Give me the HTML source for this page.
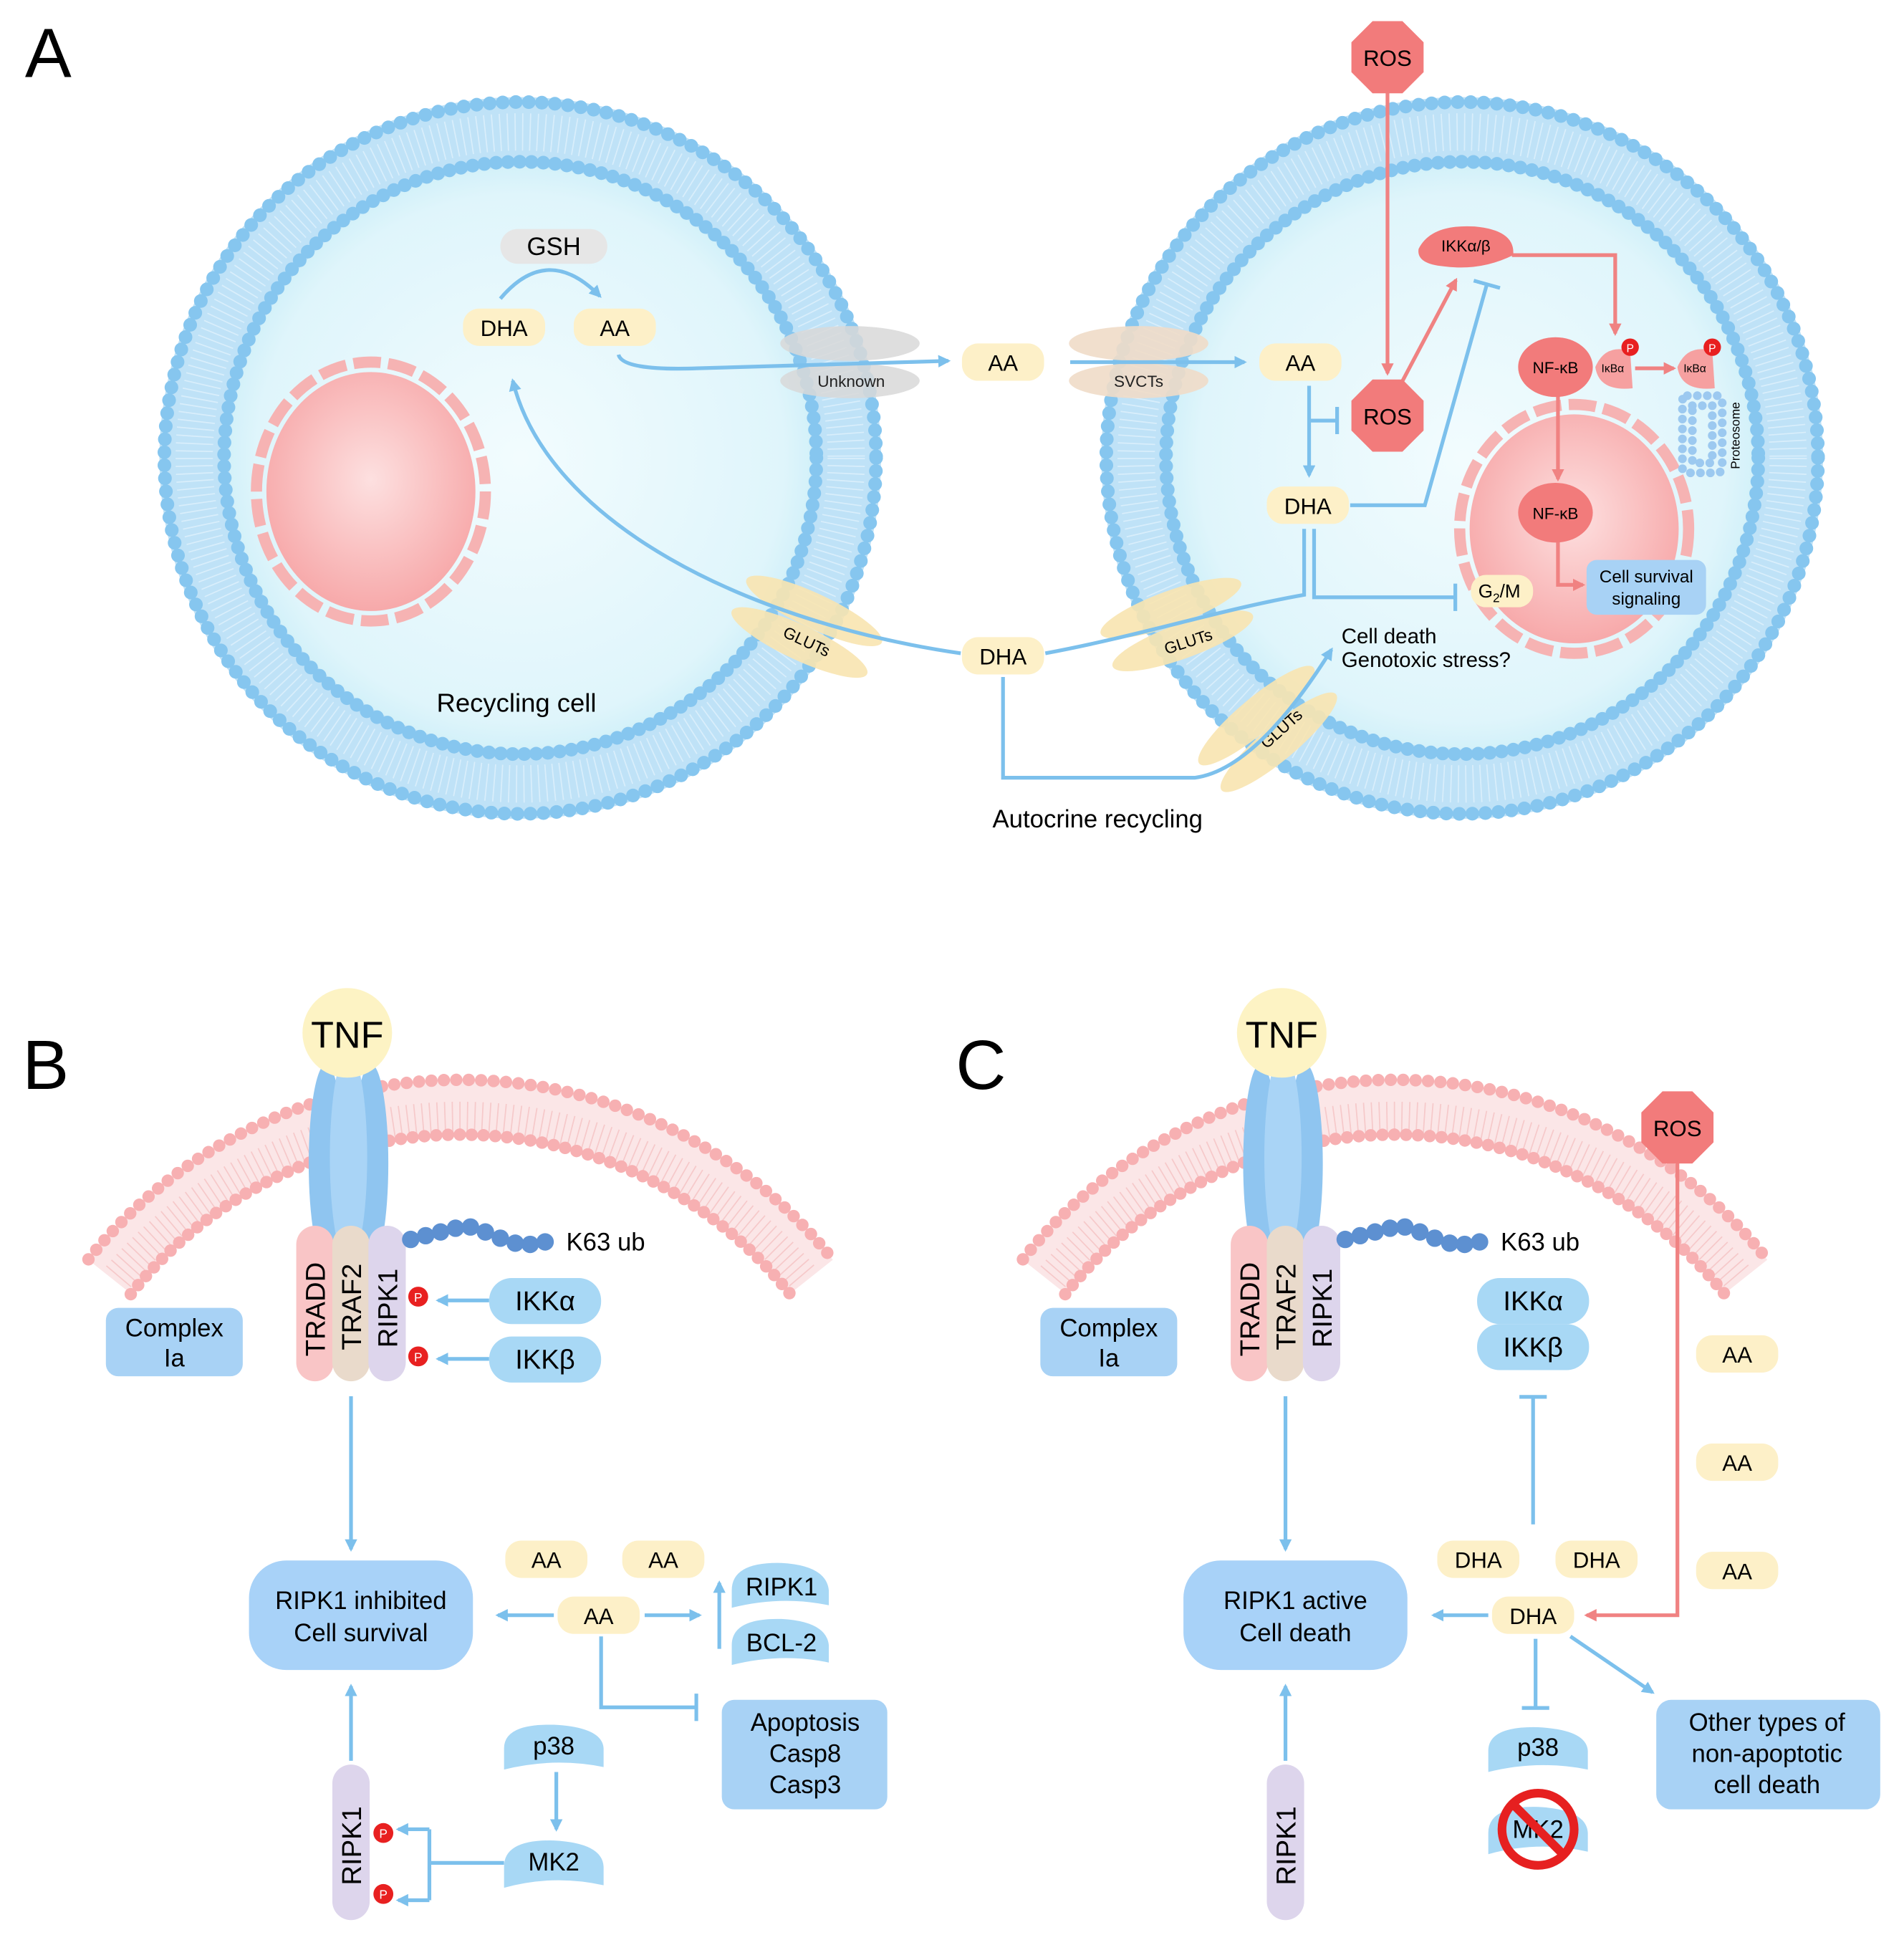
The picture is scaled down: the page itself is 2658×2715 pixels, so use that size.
<!DOCTYPE html>
<html><head><meta charset="utf-8"><style>
html,body{margin:0;padding:0;background:#fff}
svg{display:block}
text{font-family:"Liberation Sans",Arial,sans-serif}
</style></head><body>
<svg width="2658" height="2715" viewBox="0 0 1530 1563" xmlns="http://www.w3.org/2000/svg">
<defs>
<radialGradient id="cell" cx="50%" cy="50%" r="50%">
<stop offset="0" stop-color="#f2fcfe"/><stop offset="0.8" stop-color="#dff5fb"/><stop offset="1" stop-color="#c3ebf6"/></radialGradient>
<radialGradient id="nuc" cx="50%" cy="45%" r="55%">
<stop offset="0" stop-color="#fde0e0"/><stop offset="1" stop-color="#f7a9aa"/></radialGradient>
<marker id="ab" markerWidth="10" markerHeight="10" refX="8" refY="5" orient="auto" markerUnits="userSpaceOnUse"><path d="M0,0 L10,5 L0,10 z" fill="#7cc0ec"/></marker>
<marker id="ar" markerWidth="10" markerHeight="10" refX="8" refY="5" orient="auto" markerUnits="userSpaceOnUse"><path d="M0,0 L10,5 L0,10 z" fill="#f08282"/></marker>
<marker id="tb" markerWidth="4" markerHeight="22" refX="2" refY="11" orient="auto" markerUnits="userSpaceOnUse"><rect x="0" y="0" width="3" height="22" fill="#7cc0ec"/></marker>
</defs>
<rect width="1530" height="1563" fill="#fff"/>

<!-- PANEL A cells -->
<g>
<circle cx="418" cy="368" r="265" fill="url(#cell)"/>
<circle cx="418" cy="368" r="262" fill="none" stroke="#bfe2f7" stroke-width="56"/>
<circle cx="418" cy="368" r="286" fill="none" stroke="#86c6ef" stroke-width="11" stroke-dasharray="0 10.5" stroke-linecap="round"/>
<circle cx="418" cy="368" r="238" fill="none" stroke="#86c6ef" stroke-width="11" stroke-dasharray="0 9.5" stroke-linecap="round"/>
<circle cx="418" cy="368" r="262" fill="none" stroke="#d9eefb" stroke-width="30" stroke-dasharray="1 5"/>
<ellipse cx="298" cy="395" rx="84" ry="96" fill="url(#nuc)"/>
<ellipse cx="298" cy="395" rx="92" ry="104" fill="none" stroke="#f6b3b3" stroke-width="9" stroke-dasharray="22 6"/>
</g>
<g>
<circle cx="1175" cy="368" r="265" fill="url(#cell)"/>
<circle cx="1175" cy="368" r="262" fill="none" stroke="#bfe2f7" stroke-width="56"/>
<circle cx="1175" cy="368" r="286" fill="none" stroke="#86c6ef" stroke-width="11" stroke-dasharray="0 10.5" stroke-linecap="round"/>
<circle cx="1175" cy="368" r="238" fill="none" stroke="#86c6ef" stroke-width="11" stroke-dasharray="0 9.5" stroke-linecap="round"/>
<circle cx="1175" cy="368" r="262" fill="none" stroke="#d9eefb" stroke-width="30" stroke-dasharray="1 5"/>
<ellipse cx="1265" cy="425" rx="84" ry="92" fill="url(#nuc)"/>
<ellipse cx="1265" cy="425" rx="92" ry="100" fill="none" stroke="#f6b3b3" stroke-width="9" stroke-dasharray="22 6"/>
</g>
<text x="20" y="62" font-size="56">A</text>

<!-- transporters -->
<ellipse cx="683" cy="276" rx="56" ry="14" fill="#d8d8d8" opacity="0.85"/>
<ellipse cx="683" cy="306" rx="56" ry="14" fill="#d8d8d8" opacity="0.85"/>
<text x="684" y="311" font-size="13" text-anchor="middle" fill="#222">Unknown</text>
<ellipse cx="915" cy="276" rx="56" ry="14" fill="#efdcc8" opacity="0.9"/>
<ellipse cx="915" cy="306" rx="56" ry="14" fill="#efdcc8" opacity="0.9"/>
<text x="915" y="311" font-size="13" text-anchor="middle" fill="#222">SVCTs</text>
<g transform="rotate(25 650 500)"><ellipse cx="650" cy="490" rx="60" ry="14" fill="#f8e4b0" opacity="0.9"/><ellipse cx="650" cy="518" rx="60" ry="14" fill="#f8e4b0" opacity="0.9"/></g>
<text x="648" y="520" font-size="13" text-anchor="middle" transform="rotate(25 648 516)">GLUTs</text>
<g transform="rotate(-20 945 500)"><ellipse cx="945" cy="488" rx="60" ry="14" fill="#f8e4b0" opacity="0.9"/><ellipse cx="945" cy="516" rx="60" ry="14" fill="#f8e4b0" opacity="0.9"/></g>
<text x="955" y="520" font-size="13" text-anchor="middle" transform="rotate(-18 955 516)">GLUTs</text>
<g transform="rotate(-40 1018 585)"><ellipse cx="1018" cy="572" rx="60" ry="14" fill="#f8e4b0" opacity="0.9"/><ellipse cx="1018" cy="600" rx="60" ry="14" fill="#f8e4b0" opacity="0.9"/></g>
<text x="1030" y="590" font-size="13" text-anchor="middle" transform="rotate(-42 1030 586)">GLUTs</text>

<!-- A pills -->
<g font-size="18" text-anchor="middle">
<rect x="402" y="184" width="86" height="28" rx="14" fill="#e6e6e6"/><text x="445" y="205" font-size="20">GSH</text>
<rect x="372" y="248" width="66" height="30" rx="13" fill="#fdf0c8"/><text x="405" y="270">DHA</text>
<rect x="461" y="248" width="66" height="30" rx="13" fill="#fdf0c8"/><text x="494" y="270">AA</text>
<rect x="773" y="276" width="66" height="30" rx="13" fill="#fdf0c8"/><text x="806" y="298">AA</text>
<rect x="1012" y="276" width="66" height="30" rx="13" fill="#fdf0c8"/><text x="1045" y="298">AA</text>
<rect x="1018" y="391" width="66" height="30" rx="13" fill="#fdf0c8"/><text x="1051" y="413">DHA</text>
<rect x="773" y="512" width="66" height="30" rx="13" fill="#fdf0c8"/><text x="806" y="534">DHA</text>
</g>
<text x="415" y="572" font-size="21" text-anchor="middle">Recycling cell</text>
<text x="882" y="665" font-size="20" text-anchor="middle">Autocrine recycling</text>
<text x="1078" y="517" font-size="17">Cell death</text>
<text x="1078" y="536" font-size="17">Genotoxic stress?</text>

<!-- A blue arrows -->
<g fill="none" stroke="#7cc0ec" stroke-width="3">
<path d="M402,240 Q440,195 482,238" marker-end="url(#ab)"/>
<path d="M497,285 Q500,298 560,296 L762,290" marker-end="url(#ab)"/>
<path d="M860,291 L1000,291" marker-end="url(#ab)"/>
<path d="M1052,310 L1052,382" marker-end="url(#ab)"/>
<path d="M1052,338 L1075,338" marker-end="url(#tb)"/>
<path d="M772,525 C600,500 440,420 412,306" marker-end="url(#ab)"/>
<path d="M840,525 C920,510 980,490 1048,478 L1048,425"/>
<path d="M1056,425 L1056,480 L1170,480" marker-end="url(#tb)"/>
<path d="M806,544 L806,625 L960,625 C1000,620 1040,570 1070,522" marker-end="url(#ab)"/>
<path d="M1085,406 L1145,406 L1195,228" marker-end="url(#tb)"/>
</g>
<!-- A red -->
<g fill="none" stroke="#f08282" stroke-width="3">
<path d="M1115,70 L1115,300" marker-end="url(#ar)"/>
<path d="M1125,310 L1170,225" marker-end="url(#ar)"/>
<path d="M1215,205 L1298,205 L1298,268" marker-end="url(#ar)"/>
<path d="M1252,318 L1252,385" marker-end="url(#ar)"/>
<path d="M1252,432 L1252,470 L1272,470" marker-end="url(#ar)"/>
<path d="M1314,296 L1345,296" marker-end="url(#ar)"/>
</g>
<polygon points="1103,17 1127,17 1144,34 1144,58 1127,75 1103,75 1086,58 1086,34" fill="#f27b7b"/>
<text x="1115" y="53" font-size="18" text-anchor="middle">ROS</text>
<polygon points="1103,305 1127,305 1144,322 1144,346 1127,363 1103,363 1086,346 1086,322" fill="#f27b7b"/>
<text x="1115" y="341" font-size="18" text-anchor="middle">ROS</text>
<path d="M1140,200 Q1150,180 1185,182 Q1218,185 1216,205 Q1190,218 1160,214 Q1138,212 1140,200z" fill="#f27b7b"/>
<text x="1178" y="202" font-size="13" text-anchor="middle">IKKα/β</text>
<ellipse cx="1250" cy="295" rx="30" ry="24" fill="#f27b7b"/>
<text x="1250" y="300" font-size="13" text-anchor="middle">NF-κB</text>
<ellipse cx="1250" cy="412" rx="30" ry="24" fill="#f27b7b"/>
<text x="1250" y="417" font-size="13" text-anchor="middle">NF-κB</text>
<path d="M1282,295 Q1290,276 1310,282 L1312,312 Q1285,315 1282,295z" fill="#f6a0a0"/>
<text x="1296" y="299" font-size="9" text-anchor="middle">IκBα</text>
<circle cx="1310" cy="279" r="7" fill="#e82020"/><text x="1310" y="283" font-size="9" fill="#fff" text-anchor="middle">P</text>
<path d="M1348,295 Q1356,276 1376,282 L1378,312 Q1351,315 1348,295z" fill="#f6a0a0"/>
<text x="1362" y="299" font-size="9" text-anchor="middle">IκBα</text>
<circle cx="1376" cy="279" r="7" fill="#e82020"/><text x="1376" y="283" font-size="9" fill="#fff" text-anchor="middle">P</text>
<g fill="#9cc9f0">
<rect x="1352" y="318" width="32" height="62" rx="4" fill="none" stroke="#9cc9f0" stroke-width="7" stroke-dasharray="0 8" stroke-linecap="round"/>
<rect x="1360" y="326" width="16" height="46" fill="none" stroke="#9cc9f0" stroke-width="7" stroke-dasharray="0 8" stroke-linecap="round"/>
</g>
<text x="1398" y="350" font-size="10" text-anchor="middle" transform="rotate(-90 1398 350)">Proteosome</text>
<rect x="1182" y="462" width="50" height="26" rx="12" fill="#fdf0c8"/>
<text x="1188" y="480" font-size="15">G<tspan font-size="10" dy="4">2</tspan><tspan dy="-4">/M</tspan></text>
<rect x="1275" y="450" width="96" height="44" rx="8" fill="#a8d2f5"/>
<text x="1323" y="468" font-size="14" text-anchor="middle">Cell survival</text>
<text x="1323" y="486" font-size="14" text-anchor="middle">signaling</text>

<!-- PANEL B & C common -->
<g id="memB">
<path d="M88,1026 A360,360 0 0 1 652,1026" fill="none" stroke="#fbe6e7" stroke-width="44"/>
<path d="M95,1026 A360,360 0 0 1 645,1026" fill="none" stroke="#f6c9ca" stroke-width="26" stroke-dasharray="1 5"/>
<path d="M71,1012 A382,382 0 0 1 669,1012" fill="none" stroke="#f7b0b2" stroke-width="10" stroke-dasharray="0 10" stroke-linecap="round"/>
<path d="M105,1040 A338,338 0 0 1 635,1040" fill="none" stroke="#f7b0b2" stroke-width="10" stroke-dasharray="0 9.5" stroke-linecap="round"/>
<ellipse cx="262" cy="935" rx="14" ry="80" fill="#8fc5f0"/>
<ellipse cx="298" cy="935" rx="14" ry="80" fill="#8fc5f0"/>
<ellipse cx="280" cy="930" rx="15" ry="85" fill="#a9d4f6"/>
<circle cx="279" cy="830" r="36" fill="#fdf3c4"/>
<text x="279" y="842" font-size="30" text-anchor="middle">TNF</text>
<rect x="238" y="985" width="30" height="125" rx="15" fill="#f9c5c6"/>
<rect x="267" y="985" width="30" height="125" rx="15" fill="#e9dacb"/>
<rect x="296" y="985" width="30" height="125" rx="15" fill="#ddd5ec"/>
<text font-size="22" transform="translate(261 1090) rotate(-90)">TRADD</text>
<text font-size="22" transform="translate(290 1085) rotate(-90)">TRAF2</text>
<text font-size="22" transform="translate(319 1083) rotate(-90)">RIPK1</text>
<g fill="#5d90d1">
<circle cx="330" cy="996" r="7"/><circle cx="342" cy="993" r="7"/><circle cx="354" cy="990" r="7"/><circle cx="366" cy="987" r="7"/><circle cx="378" cy="986" r="7"/><circle cx="390" cy="990" r="7"/><circle cx="402" cy="995" r="7"/><circle cx="414" cy="999" r="7"/><circle cx="426" cy="1000" r="7"/><circle cx="438" cy="998" r="7"/>
</g>
<text x="455" y="1005" font-size="20">K63 ub</text>
<rect x="85" y="1051" width="110" height="55" rx="10" fill="#a8d2f5"/>
<text x="140" y="1074" font-size="20" text-anchor="middle">Complex</text>
<text x="140" y="1098" font-size="20" text-anchor="middle">Ia</text>
</g>
<use href="#memB" transform="translate(751 0)"/>
<text x="18" y="875" font-size="56">B</text>
<text x="768" y="875" font-size="56">C</text>

<!-- B details -->
<g fill="none" stroke="#7cc0ec" stroke-width="3">
<path d="M393,1045 L352,1045" marker-end="url(#ab)"/>
<path d="M393,1092 L352,1092" marker-end="url(#ab)"/>
<path d="M282,1122 L282,1245" marker-end="url(#ab)"/>
<path d="M282,1415 L282,1355" marker-end="url(#ab)"/>
<path d="M445,1298 L400,1298" marker-end="url(#ab)"/>
<path d="M518,1298 L562,1298" marker-end="url(#ab)"/>
<path d="M578,1325 L578,1272" marker-end="url(#ab)"/>
<path d="M483,1315 L483,1372 L560,1372" marker-end="url(#tb)"/>
<path d="M447,1424 L447,1470" marker-end="url(#ab)"/>
<path d="M405,1497 L345,1497 M345,1470 L345,1527"/>
<path d="M345,1470 L320,1470" marker-end="url(#ab)"/>
<path d="M345,1527 L320,1527" marker-end="url(#ab)"/>
</g>
<rect x="393" y="1027" width="90" height="37" rx="18" fill="#a8d8f5"/><text x="438" y="1053" font-size="22" text-anchor="middle">IKKα</text>
<rect x="393" y="1074" width="90" height="37" rx="18" fill="#a8d8f5"/><text x="438" y="1100" font-size="22" text-anchor="middle">IKKβ</text>
<circle cx="336" cy="1042" r="8" fill="#e82020"/><text x="336" y="1046" font-size="10" fill="#fff" text-anchor="middle">P</text>
<circle cx="336" cy="1090" r="8" fill="#e82020"/><text x="336" y="1094" font-size="10" fill="#fff" text-anchor="middle">P</text>
<rect x="200" y="1254" width="180" height="88" rx="30" fill="#a8d2f8"/>
<text x="290" y="1293" font-size="20" text-anchor="middle">RIPK1 inhibited</text>
<text x="290" y="1319" font-size="20" text-anchor="middle">Cell survival</text>
<g font-size="18" text-anchor="middle">
<rect x="406" y="1238" width="66" height="30" rx="13" fill="#fdf0c8"/><text x="439" y="1260">AA</text>
<rect x="500" y="1238" width="66" height="30" rx="13" fill="#fdf0c8"/><text x="533" y="1260">AA</text>
<rect x="448" y="1283" width="66" height="30" rx="13" fill="#fdf0c8"/><text x="481" y="1305">AA</text>
</g>
<path d="M588,1278 Q588,1255 628,1256 Q664,1258 666,1278 L666,1290 Q628,1282 588,1292z" fill="#a8d8f5"/>
<text x="628" y="1282" font-size="20" text-anchor="middle">RIPK1</text>
<path d="M588,1322 Q588,1300 628,1301 Q664,1303 666,1322 L666,1336 Q628,1328 588,1338z" fill="#a8d8f5"/>
<text x="628" y="1327" font-size="20" text-anchor="middle">BCL-2</text>
<rect x="580" y="1366" width="133" height="88" rx="10" fill="#a8d2f5"/>
<text x="647" y="1391" font-size="20" text-anchor="middle">Apoptosis</text>
<text x="647" y="1416" font-size="20" text-anchor="middle">Casp8</text>
<text x="647" y="1441" font-size="20" text-anchor="middle">Casp3</text>
<path d="M405,1405 Q405,1385 445,1386 Q484,1388 485,1405 L485,1420 Q445,1412 405,1422z" fill="#a8d8f5"/>
<text x="445" y="1410" font-size="20" text-anchor="middle">p38</text>
<path d="M405,1500 Q405,1478 445,1479 Q484,1481 485,1500 L485,1515 Q445,1506 405,1517z" fill="#a8d8f5"/>
<text x="445" y="1503" font-size="20" text-anchor="middle">MK2</text>
<rect x="267" y="1418" width="30" height="125" rx="15" fill="#ddd5ec"/>
<text font-size="22" transform="translate(290 1515) rotate(-90)">RIPK1</text>
<circle cx="308" cy="1473" r="8" fill="#e82020"/><text x="308" y="1477" font-size="10" fill="#fff" text-anchor="middle">P</text>
<circle cx="308" cy="1522" r="8" fill="#e82020"/><text x="308" y="1526" font-size="10" fill="#fff" text-anchor="middle">P</text>

<!-- C details -->
<g fill="none" stroke="#7cc0ec" stroke-width="3">
<path d="M1033,1122 L1033,1245" marker-end="url(#ab)"/>
<path d="M1033,1415 L1033,1355" marker-end="url(#ab)"/>
<path d="M1196,1298 L1152,1298" marker-end="url(#ab)"/>
<path d="M1232,1225 L1232,1122" marker-end="url(#tb)"/>
<path d="M1234,1317 L1234,1373" marker-end="url(#tb)"/>
<path d="M1262,1315 L1328,1360" marker-end="url(#ab)"/>
</g>
<path d="M1348,930 L1348,1298 L1275,1298" fill="none" stroke="#f08282" stroke-width="3" marker-end="url(#ar)"/>
<polygon points="1336,877 1360,877 1377,894 1377,918 1360,935 1336,935 1319,918 1319,894" fill="#f27b7b"/>
<text x="1348" y="913" font-size="18" text-anchor="middle">ROS</text>
<rect x="1187" y="1027" width="90" height="37" rx="18" fill="#a8d8f5"/><text x="1232" y="1053" font-size="22" text-anchor="middle">IKKα</text>
<rect x="1187" y="1064" width="90" height="37" rx="18" fill="#a8d8f5"/><text x="1232" y="1090" font-size="22" text-anchor="middle">IKKβ</text>
<rect x="951" y="1254" width="180" height="88" rx="30" fill="#a8d2f8"/>
<text x="1041" y="1293" font-size="20" text-anchor="middle">RIPK1 active</text>
<text x="1041" y="1319" font-size="20" text-anchor="middle">Cell death</text>
<g font-size="18" text-anchor="middle">
<rect x="1155" y="1238" width="66" height="30" rx="13" fill="#fdf0c8"/><text x="1188" y="1260">DHA</text>
<rect x="1250" y="1238" width="66" height="30" rx="13" fill="#fdf0c8"/><text x="1283" y="1260">DHA</text>
<rect x="1199" y="1283" width="66" height="30" rx="13" fill="#fdf0c8"/><text x="1232" y="1305">DHA</text>
<rect x="1363" y="1073" width="66" height="30" rx="13" fill="#fdf0c8"/><text x="1396" y="1095">AA</text>
<rect x="1363" y="1160" width="66" height="30" rx="13" fill="#fdf0c8"/><text x="1396" y="1182">AA</text>
<rect x="1363" y="1247" width="66" height="30" rx="13" fill="#fdf0c8"/><text x="1396" y="1269">AA</text>
</g>
<rect x="1331" y="1366" width="180" height="88" rx="12" fill="#a8d2f5"/>
<text x="1420" y="1391" font-size="20" text-anchor="middle">Other types of</text>
<text x="1420" y="1416" font-size="20" text-anchor="middle">non-apoptotic</text>
<text x="1420" y="1441" font-size="20" text-anchor="middle">cell death</text>
<path d="M1196,1407 Q1196,1387 1236,1388 Q1275,1390 1276,1407 L1276,1422 Q1236,1414 1196,1424z" fill="#a8d8f5"/>
<text x="1236" y="1411" font-size="20" text-anchor="middle">p38</text>
<path d="M1196,1473 Q1196,1451 1236,1452 Q1275,1454 1276,1473 L1276,1488 Q1236,1479 1196,1490z" fill="#a8d8f5"/>
<text x="1236" y="1477" font-size="20" text-anchor="middle">MK2</text>
<circle cx="1236" cy="1470" r="29" fill="none" stroke="#e62020" stroke-width="7"/>
<line x1="1215" y1="1449" x2="1257" y2="1491" stroke="#e62020" stroke-width="7"/>
<rect x="1018" y="1418" width="30" height="125" rx="15" fill="#ddd5ec"/>
<text font-size="22" transform="translate(1041 1515) rotate(-90)">RIPK1</text>
</svg>
</body></html>
